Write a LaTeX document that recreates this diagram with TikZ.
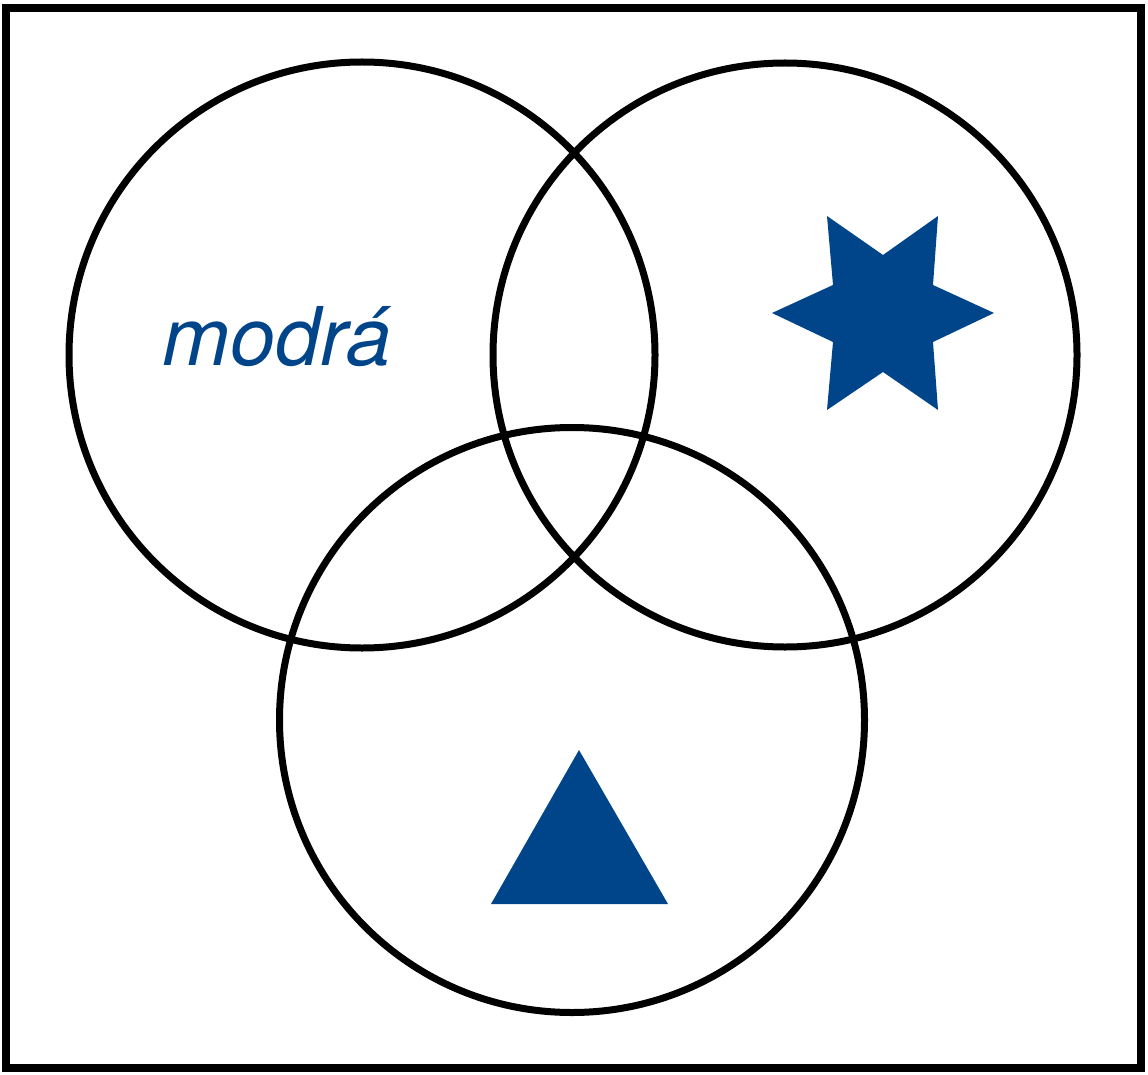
\documentclass[tikz,border=0pt]{standalone}
\usepackage{fontspec}
\setmainfont{TeX Gyre Heros}
\definecolor{vennblue}{HTML}{00458A}
\begin{document}
\begin{tikzpicture}[x=1pt,y=-1pt,
  ring/.style={draw=black,line width=7pt},
  shapefill/.style={fill=vennblue,draw=none}]
\useasboundingbox (0,0) rectangle (1148,1075);
\draw[line width=8pt] (6,8) rectangle (1141,1068);
\node[ring,circle,minimum size=586pt,inner sep=0pt] (left) at (362,355) {};
\node[ring,circle,minimum size=584pt,inner sep=0pt] (right) at (785,355) {};
\node[ring,circle,minimum size=585pt,inner sep=0pt] (bottom) at (572,720) {};
\node[text=vennblue,font=\fontsize{81}{81}\selectfont\itshape,anchor=base,inner sep=0pt] (label) at (277,365) {modrá};
\fill[shapefill] (827,216) -- (883,255) -- (938,216) -- (933,285) -- (994,313) -- (933,342) -- (938,410) -- (883,372) -- (827,410) -- (833,342) -- (772,313) -- (833,285) -- cycle;
\fill[shapefill] (579,750) -- (668,904) -- (491,904) -- cycle;
\end{tikzpicture}
\end{document}
